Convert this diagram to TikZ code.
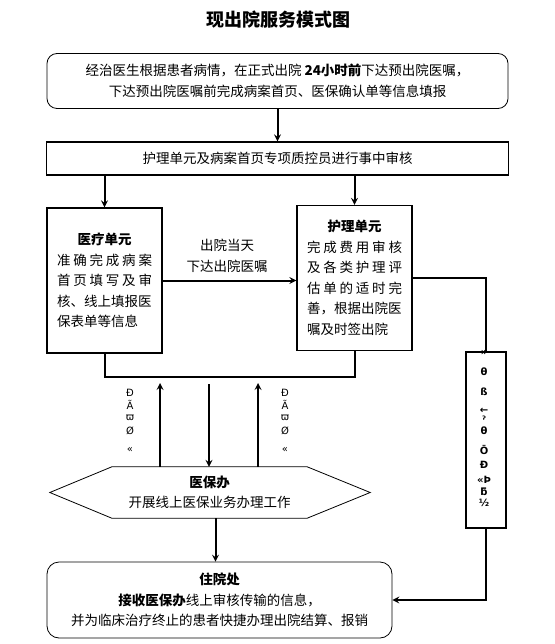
\documentclass[tikz,border=0pt]{standalone}
\usepackage{fontspec}
\setmainfont{Noto Sans CJK SC}
\newfontfamily\glyphfont{DejaVu Sans}
\newcommand\spreadrow[1]{\makebox[95pt][s]{#1}}
\newcommand\leftrow[1]{\makebox[95pt][l]{#1}}
\tikzset{
  txt/.style={font=\fontsize{13.5}{20.5}\selectfont, align=center, inner sep=0pt},
  roundbox/.style={txt, draw, line width=0.8pt, rounded corners=10pt},
  plainbox/.style={txt, draw, line width=1.4pt},
  conn/.style={line width=2pt},
  arr/.style={->, >=stealth, line width=2pt},
  glyph/.style={font=\glyphfont\fontsize{10}{10}\selectfont, inner sep=0pt}
}
\begin{document}
\begin{tikzpicture}[x=1pt,y=-1pt]
\useasboundingbox (0,0) rectangle (554,644);
\node[font=\fontsize{18}{18}\selectfont\bfseries] (title) at (278,20) {现出院服务模式图};
% top boxes
\node[roundbox, minimum width=461pt, minimum height=55pt] (jz) at (277.5,81) {经治医生根据患者病情，在正式出院 \textbf{24小时前}下达预出院医嘱，\\下达预出院医嘱前完成病案首页、医保确认单等信息填报};
\node[plainbox, minimum width=462pt, minimum height=33pt] (zk) at (277.5,158.5) {护理单元及病案首页专项质控员进行事中审核};
% units
\node[plainbox, minimum width=115pt, minimum height=145pt] (yl) at (104.5,280.5) {\textbf{医疗单元}\\
  \spreadrow{准\hfil 确\hfil 完\hfil 成\hfil 病\hfil 案}\\
  \spreadrow{首\hfil 页\hfil 填\hfil 写\hfil 及\hfil 审}\\
  \leftrow{核、线上填报医}\\
  \leftrow{保表单等信息}};
\node[plainbox, minimum width=115pt, minimum height=145pt] (hl) at (354.5,278) {\textbf{护理单元}\\
  \spreadrow{完\hfil 成\hfil 费\hfil 用\hfil 审\hfil 核}\\
  \spreadrow{及\hfil 各\hfil 类\hfil 护\hfil 理\hfil 评}\\
  \spreadrow{估\hfil 单\hfil 的\hfil 适\hfil 时\hfil 完}\\
  \leftrow{善，根据出院医}\\
  \leftrow{嘱及时签出院}};
\node[txt] (cy) at (227,256) {出院当天\\下达出院医嘱};
\node[draw, line width=1.6pt, minimum width=40pt, minimum height=176pt] (xb) at (486,440) {};
% hexagon
\node[txt, minimum width=195pt, minimum height=51pt] (ybb) at (209.5,492.5) {\textbf{医保办}\\开展线上医保业务办理工作};
\draw[line width=0.8pt] (ybb.north west) -- (ybb.north east) -- ([xshift=63pt]ybb.east) -- (ybb.south east) -- (ybb.south west) -- ([xshift=-62pt]ybb.west) -- cycle;
\node[roundbox, rounded corners=12pt, minimum width=345pt, minimum height=76pt] (zy) at (219.5,600) {\textbf{住院处}\\\textbf{接收医保办}线上审核传输的信息，\\并为临床治疗终止的患者快捷办理出院结算、报销};
% garbled labels
\foreach \g/\y [count=\i] in {Ð/393, Ã/405, ϖ/418, Ø/431, «/450} {
  \node[glyph] (la\i) at (130,\y) {\g};
  \node[glyph] (lb\i) at (285,\y) {\g};
}
\foreach \g/\y [count=\i] in {»/353, θ/372, ß/392, ←/411, ˀ/420, θ/431, Ō/450, Ð/465, «Þ/480, ƃ/492, ½/503}
  \node[glyph, font=\glyphfont\bfseries\fontsize{10}{10}\selectfont] (rg\i) at (484,\y) {\g};
% connectors
\draw[arr] (jz.south) -- (zk.north);
\draw[arr] (zk.south -| yl.north) -- (yl.north);
\draw[arr] (zk.south -| hl.north) -- (hl.north);
\draw[arr] (yl.east) -- (yl.east -| hl.west);
\coordinate (bus) at (230,377);
\draw[conn] (yl.south) |- (bus) -| (hl.south);
\coordinate (upa) at (160,383);
\coordinate (upb) at (258,383);
\coordinate (dn) at (209,384);
\draw[arr] (upa |- ybb.north) -- (upa);
\draw[arr] (upb |- ybb.north) -- (upb);
\draw[arr] (dn) -- (dn |- ybb.north);
\coordinate (ybout) at ([xshift=6pt]ybb.south);
\draw[arr] (ybout) -- (ybout |- zy.north);
\draw[conn] (hl.east) -| (xb.north);
\draw[arr] (xb.south) |- (zy.east);
\end{tikzpicture}
\end{document}
